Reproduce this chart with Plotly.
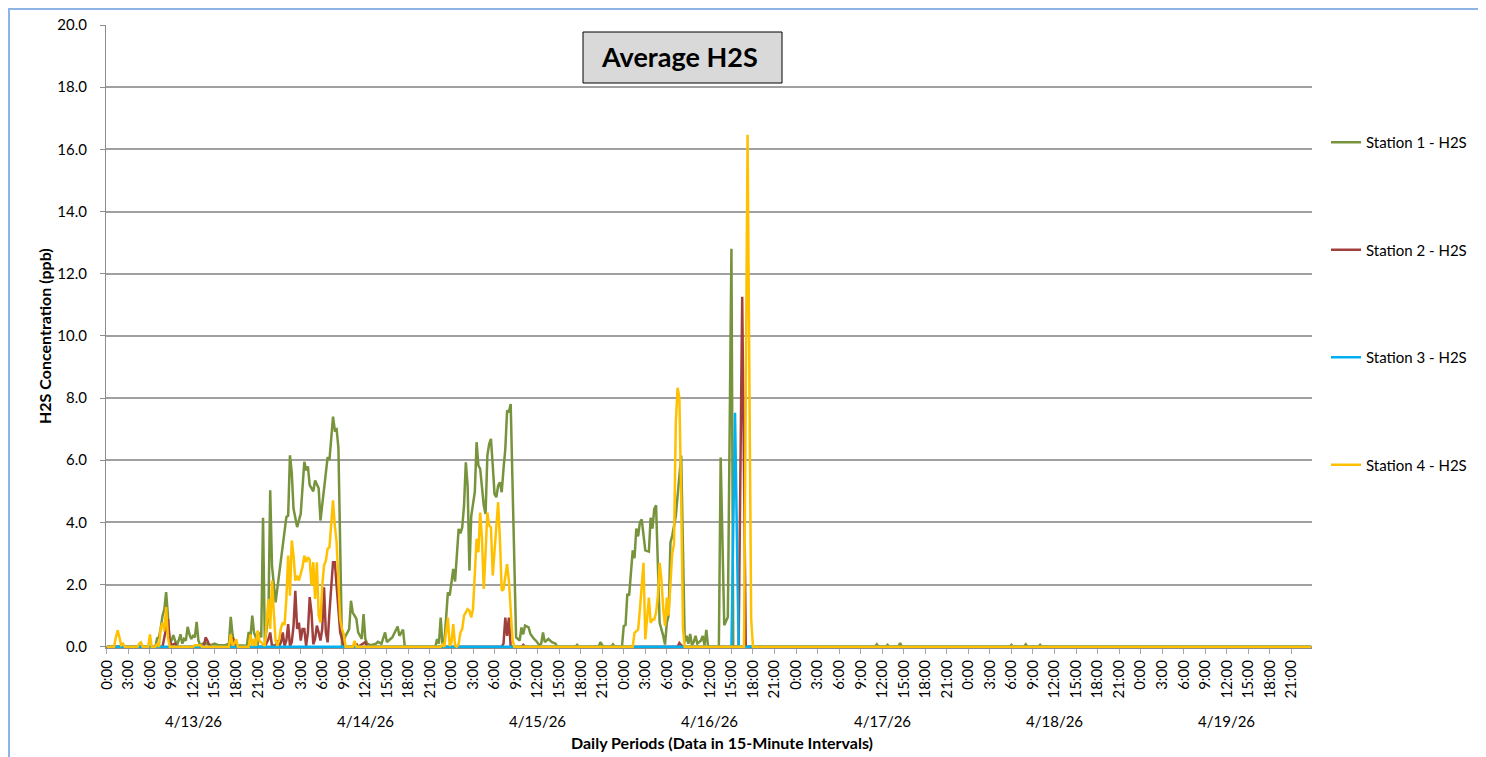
import pandas as pd
import plotly.graph_objects as go

# readings taken off the chart: (hours since 4/13/26 0:00, ppb)
start = pd.Timestamp("2026-04-13 00:00")

station1 = [(0, 0), (6.75, 0), (7.0, 0.27), (7.25, 0.3), (7.5, 0.6), (7.75, 1.0), (8.0, 1.2), (8.25, 1.76), (8.5, 1.0),
            (8.75, 0.1), (9.0, 0.2), (9.25, 0.37), (9.5, 0.2), (9.75, 0.05), (10.0, 0.2), (10.25, 0.4), (10.5, 0.1),
            (10.75, 0.25), (11.0, 0.2), (11.25, 0.64), (11.5, 0.4), (11.75, 0.25), (12.0, 0.35), (12.25, 0.3),
            (12.5, 0.8), (12.75, 0.2), (13.0, 0.05), (13.5, 0.12), (14.0, 0.1), (14.5, 0.05), (15.0, 0.1),
            (15.5, 0.05), (16.5, 0.05), (17.0, 0.1), (17.25, 0.96), (17.5, 0.4), (17.75, 0.1), (18.25, 0.05),
            (19.5, 0.03), (19.75, 0.48), (20.0, 0.3), (20.25, 1.0), (20.5, 0.45), (20.75, 0.3), (21.0, 0.05),
            (21.25, 0.46), (21.5, 0.3), (21.75, 4.15), (22.0, 0.14), (22.25, 0.5), (22.5, 1.0), (22.75, 5.03),
            (23.0, 2.6), (23.5, 1.43), (23.75, 1.86), (24.25, 2.83), (24.5, 3.26), (25.0, 4.17), (25.25, 4.22),
            (25.5, 6.16), (25.75, 5.6), (26.0, 4.44), (26.5, 3.85), (27.0, 4.28), (27.5, 5.95), (27.75, 5.68),
            (28.0, 5.8), (28.25, 5.2), (28.75, 5.0), (29.0, 5.35), (29.5, 5.1), (29.75, 4.06), (30.25, 5.08),
            (30.5, 5.6), (30.75, 6.1), (31.0, 6.0), (31.5, 7.4), (31.75, 6.97), (32.0, 7.0), (32.25, 6.4),
            (32.75, 0.03), (33.25, 0.35), (33.75, 0.57), (34.0, 1.48), (34.25, 1.1), (34.75, 0.9), (35.0, 0.46),
            (35.5, 0.25), (35.75, 1.05), (36.0, 0.25), (36.25, 0.1), (36.75, 0.05), (37.5, 0.1), (37.75, 0.16),
            (38.25, 0.1), (38.75, 0.46), (39.0, 0.15), (39.5, 0.25), (39.75, 0.3), (40.5, 0.65), (40.75, 0.35),
            (41.25, 0.55), (41.5, 0),
            (45.75, 0), (46.0, 0.25), (46.25, 0.1), (46.5, 0.94), (46.75, 0.05), (47.0, 0.1), (47.5, 1.75),
            (47.75, 1.65), (48.0, 2.07), (48.25, 2.5), (48.5, 2.1), (48.75, 2.93), (49.0, 3.79), (49.25, 3.65),
            (49.5, 3.84), (49.75, 4.54), (50.0, 5.93), (50.25, 5.18), (50.5, 2.45), (50.75, 4.2), (51.0, 4.6),
            (51.25, 4.97), (51.5, 6.58), (51.75, 5.83), (52.0, 5.72), (52.25, 5.07), (52.5, 4.54), (52.75, 4.27),
            (53.0, 6.15), (53.25, 6.52), (53.5, 6.69), (53.75, 5.83), (54.0, 4.91), (54.25, 4.81), (54.5, 5.18),
            (54.75, 5.29), (55.0, 4.97), (55.25, 5.72), (55.5, 6.36), (55.75, 7.6), (56.0, 7.54), (56.25, 7.81),
            (56.5, 5.29), (56.75, 2.29), (57.0, 0.3), (57.5, 0.2), (57.75, 0.62), (58.0, 0.4), (58.25, 0.68),
            (58.75, 0.62), (59.0, 0.41), (59.5, 0.25), (59.75, 0.2), (60.25, 0.05), (60.5, 0.1), (60.75, 0.46),
            (61.0, 0.15), (61.5, 0.25), (62.0, 0.15), (62.5, 0.1), (62.75, 0),
            (65.25, 0), (65.5, 0.06), (65.75, 0), (68.5, 0), (68.75, 0.15), (69.0, 0.05), (69.25, 0), (70.25, 0),
            (70.5, 0.08), (70.75, 0), (71.75, 0), (72.0, 0.67), (72.25, 0.7), (72.5, 1.7), (72.75, 1.65),
            (73.0, 2.28), (73.25, 3.1), (73.5, 2.85), (73.75, 3.8), (74.0, 3.55), (74.25, 4.0), (74.5, 4.1),
            (75.0, 3.1), (75.5, 3.06), (75.75, 4.15), (76.0, 3.8), (76.25, 4.43), (76.5, 4.55), (76.75, 2.7),
            (77.0, 0.77), (77.5, 0.35), (77.75, 0.07), (78.0, 0.77), (78.25, 1.0), (78.5, 3.35), (78.75, 3.57),
            (79.25, 4.2), (79.5, 4.86), (79.75, 5.3), (80.0, 6.15), (80.25, 3.1), (80.5, 0.15), (80.75, 0.35),
            (81.0, 0.1), (81.25, 0.41), (81.5, 0.05), (81.75, 0.15), (82.0, 0.35), (82.25, 0.1), (82.75, 0.2),
            (83.0, 0.35), (83.25, 0.05), (83.5, 0.54), (83.75, 0),
            (85.25, 0), (85.5, 6.09), (86.0, 0.69), (86.5, 0.96), (87.0, 12.8), (87.25, 0),
            (107.0, 0), (107.25, 0.08), (107.5, 0), (108.5, 0), (108.75, 0.06), (109.0, 0), (110.25, 0),
            (110.5, 0.12), (110.75, 0), (125.75, 0), (126.0, 0.06), (126.25, 0), (127.75, 0), (128.0, 0.08),
            (128.25, 0), (129.75, 0), (130.0, 0.06), (130.25, 0), (167.75, 0)]

station2 = [(0, 0), (7.75, 0), (8.0, 0.3), (8.5, 0.9), (8.75, 0.2), (9.0, 0.05), (9.5, 0.1), (9.75, 0),
            (13.5, 0), (13.75, 0.3), (14.0, 0.2), (14.25, 0.05), (14.5, 0), (17.25, 0), (17.5, 0.3), (17.75, 0.15),
            (18.0, 0), (22.0, 0), (22.5, 0.25), (22.75, 0.46), (23.0, 0.03), (23.5, 0.05), (23.75, 0.2),
            (24.0, 0.03), (24.25, 0.14), (24.5, 0.46), (24.75, 0.03), (25.0, 0.2), (25.25, 0.73), (25.5, 0.03),
            (25.75, 0.14), (26.0, 0.68), (26.25, 1.8), (26.5, 0.57), (26.75, 0.78), (27.0, 0.2), (27.25, 0.57),
            (27.5, 0.57), (27.75, 0.03), (28.0, 0.46), (28.25, 1.6), (28.5, 1.1), (28.75, 0.08), (29.0, 0.25),
            (29.25, 0.68), (29.5, 0.46), (29.75, 0.2), (30.0, 0.57), (30.25, 1.91), (30.5, 0.46), (30.75, 0.14),
            (31.0, 1.1), (31.25, 1.97), (31.5, 2.72), (31.75, 2.72), (32.0, 1.97), (32.25, 1.0), (32.5, 0.46),
            (32.75, 0.25), (33.0, 0), (34.5, 0), (34.75, 0.1), (35.0, 0), (35.75, 0.1), (36.0, 0.15), (36.25, 0),
            (55.0, 0), (55.25, 0.1), (55.5, 0.94), (55.75, 0.35), (56.0, 0.94), (56.25, 0), (57.75, 0),
            (58.0, 0.06), (58.25, 0), (79.5, 0), (79.75, 0.12), (80.0, 0.05), (80.25, 0),
            (88.0, 0), (88.5, 11.26), (89.0, 0), (167.75, 0)]

station3 = [(0, 0), (87.0, 0), (87.5, 7.53), (88.0, 0), (167.75, 0)]

station4 = [(0, 0), (1.0, 0), (1.25, 0.3), (1.5, 0.53), (1.75, 0.3), (2.0, 0.05), (2.25, 0.1), (2.5, 0),
            (4.25, 0), (4.5, 0.1), (4.75, 0.14), (5.0, 0), (5.75, 0), (6.0, 0.4), (6.25, 0), (6.75, 0), (7.0, 0.1),
            (7.25, 0), (7.5, 0.6), (7.75, 0.77), (8.0, 0.5), (8.25, 1.28), (8.5, 0.3), (8.75, 0), (12.0, 0),
            (12.25, 0.05), (13.0, 0.05), (13.25, 0), (17.0, 0), (17.25, 0.4), (17.5, 0.05), (17.75, 0.1),
            (18.0, 0.24), (18.25, 0),
            (19.75, 0), (20.0, 0.4), (20.25, 0.03), (20.5, 0.25), (20.75, 0.03), (21.0, 0.52), (21.25, 0.2),
            (21.5, 0.14), (21.75, 0.08), (22.0, 0.03), (22.25, 0.8), (22.5, 1.54), (22.75, 0.57), (23.0, 2.13),
            (23.25, 1.1), (23.5, 0.19), (23.75, 0.03), (24.0, 0.25), (24.25, 0.6), (24.5, 0.78), (24.75, 0.7),
            (25.0, 1.54), (25.25, 2.93), (25.5, 1.64), (25.75, 3.42), (26.0, 2.93), (26.25, 2.13), (26.5, 2.29),
            (26.75, 2.13), (27.0, 2.34), (27.25, 2.56), (27.5, 2.93), (27.75, 2.72), (28.0, 2.88), (28.25, 2.8),
            (28.5, 1.97), (28.75, 2.72), (29.0, 1.54), (29.25, 2.72), (29.5, 1.0), (29.75, 0.78), (30.0, 1.97),
            (30.25, 2.61), (30.5, 2.77), (30.75, 3.15), (31.0, 3.2), (31.25, 4.0), (31.5, 4.71), (31.75, 3.9),
            (32.0, 3.37), (32.25, 2.08), (32.5, 0.89), (32.75, 0.57), (33.0, 0.4), (33.25, 0), (34.25, 0),
            (34.5, 0.19), (34.75, 0),
            (46.5, 0), (46.75, 0.08), (47.0, 0), (47.5, 0.94), (47.75, 0.03), (48.0, 0.14), (48.25, 0.73),
            (48.5, 0.03), (48.75, 0), (49.0, 0.1), (49.25, 0.46), (49.5, 0.57), (49.75, 1.0), (50.0, 1.1),
            (50.25, 1.21), (50.5, 1.16), (50.75, 0.94), (51.0, 1.21), (51.25, 2.5), (51.5, 3.47), (51.75, 3.04),
            (52.0, 4.32), (52.25, 3.47), (52.5, 1.86), (52.75, 3.04), (53.0, 4.32), (53.25, 3.9), (53.5, 3.84),
            (53.75, 2.29), (54.0, 3.14), (54.25, 4.0), (54.5, 4.65), (54.75, 3.47), (55.0, 1.8), (55.25, 1.85),
            (55.5, 2.29), (55.75, 2.66), (56.0, 2.12), (56.25, 1.21), (56.5, 0.25), (56.75, 0),
            (73.25, 0), (73.5, 0.45), (73.75, 0.5), (74.0, 0.55), (74.25, 1.2), (74.75, 2.7), (75.0, 0.24),
            (75.25, 0.88), (75.5, 1.58), (75.75, 0.77), (76.0, 0.88), (76.25, 0.88), (76.5, 1.1), (76.75, 1.62),
            (77.0, 2.7), (77.25, 2.17), (77.5, 1.2), (77.75, 0.67), (78.0, 1.58), (78.25, 1.0), (78.5, 1.85),
            (78.75, 3.0), (79.0, 3.3), (79.25, 7.2), (79.5, 8.33), (79.75, 8.0), (80.0, 4.8), (80.25, 0.58),
            (80.5, 0),
            (88.75, 0), (89.25, 16.47), (89.75, 0.9), (90.0, 0), (167.75, 0)]

names = ["Station 1 - H2S", "Station 2 - H2S", "Station 3 - H2S", "Station 4 - H2S"]
colors = ["#77933c", "#a0403d", "#00b0f0", "#ffc000"]
day_labels = ["4/13/26", "4/14/26", "4/15/26", "4/16/26", "4/17/26", "4/18/26", "4/19/26"]
tick_hours = list(range(0, 168, 3))
tick_text = [f"{h % 24}:00" for h in tick_hours]

FONT = "Lato, 'Open Sans', sans-serif"

# plot area in screen pixels (from the reference); the page body adds an 8px offset
L, R, T, B = 106, 1312, 25, 648
W, H = 1486, 757
OFF = 8


def px(x):
    return (x - L) / (R - L)


def py(y):
    return (B - y) / (B - T)


def to_time(h):
    return start + pd.to_timedelta(h, unit="h")


fig = go.Figure()

for i, series in enumerate([station1, station2, station3, station4]):
    hours = [p[0] for p in series]
    vals = [p[1] for p in series]
    fig.add_trace(go.Scatter(x=[to_time(h) for h in hours], y=vals, mode='lines', name=names[i],
                             legendgroup=names[i], line=dict(color=colors[i], width=2.5)))

shapes = [
    # chart-area frame
    dict(type='rect', xref='paper', yref='paper', x0=px(9), x1=px(1481), y0=py(9), y1=py(775),
         fillcolor='white', line=dict(color='#8eb4e3', width=2), layer='below'),
    # title box
    dict(type='rect', xref='paper', yref='paper', x0=px(583), x1=px(782), y0=py(83), y1=py(32),
         fillcolor='#d9d9d9', line=dict(color='black', width=1)),
]

annotations = [
    dict(text="<b>Average H2S</b>", xref='paper', yref='paper', x=px(679), y=py(57),
         xanchor='center', yanchor='middle',
         showarrow=False, font=dict(family=FONT, size=27, color='black')),
    dict(text="<b>H2S Concentration (ppb)</b>", xref='paper', yref='paper', x=px(45), y=py(336),
         xanchor='center', yanchor='middle',
         textangle=-90, showarrow=False, font=dict(family=FONT, size=16, color='black')),
    dict(text="<b>Daily Periods (Data in 15-Minute Intervals)</b>", xref='paper', yref='paper',
         x=px(722), y=py(742), xanchor='center', yanchor='middle',
         showarrow=False, font=dict(family=FONT, size=16, color='black')),
]
for d, lab in enumerate(day_labels):
    annotations.append(dict(text=lab, xref='x', yref='paper', x=to_time(d * 24 + 12), y=py(721),
                            xanchor='center', yanchor='middle',
                            showarrow=False, font=dict(family=FONT, size=15, color='black')))

fig.update_layout(
    width=W - OFF, height=H - OFF,
    margin=dict(l=L - OFF, r=W - R, t=T - OFF, b=H - B),
    template='none',
    paper_bgcolor='#e4eaf4',
    plot_bgcolor='white',
    font=dict(family=FONT, size=15, color='black'),
    shapes=shapes,
    annotations=annotations,
    showlegend=True,
    legend=dict(x=px(1326), xanchor='left', y=py(126), yanchor='top', tracegroupgap=85,
                bgcolor='rgba(0,0,0,0)', font=dict(family=FONT, size=15, color='black')),
)

fig.update_xaxes(
    type='date',
    range=[to_time(-0.125), to_time(167.875)],
    tickvals=[to_time(h) for h in tick_hours],
    ticktext=tick_text,
    tickangle=-90,
    ticks='outside', ticklen=5, tickcolor='#a6a6a6',
    showgrid=False, zeroline=False,
    showline=True, linecolor='#8c8c8c', linewidth=1,
    tickfont=dict(family=FONT, size=15, color='black'),
)

# a hair below zero so the zero-level lines are not half clipped by the plot edge
fig.update_yaxes(
    range=[-0.04, 20], dtick=2, tick0=0, tickformat='.1f',
    ticks='outside', ticklen=5, tickcolor='#8c8c8c',
    showgrid=True, gridcolor='#a0a0a0', gridwidth=1.5,
    zeroline=False,
    showline=True, linecolor='#8c8c8c', linewidth=1,
    tickfont=dict(family=FONT, size=15, color='black'),
    ticklabelstandoff=10,
)

fig.write_html("out.html")
